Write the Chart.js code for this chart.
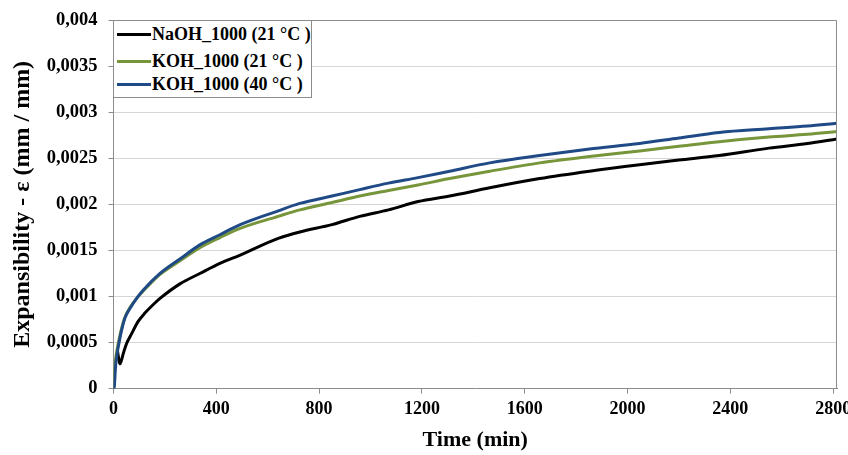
<!DOCTYPE html>
<html>
<head>
<meta charset="utf-8">
<script src="https://cdn.jsdelivr.net/npm/chart.js@4/dist/chart.umd.min.js"></script>
<style>
  html,body{margin:0;padding:0;background:#fff;}
  #wrap{position:relative;width:848px;height:455px;}
  #legend{position:absolute;left:113px;top:20px;width:197px;height:76px;background:#fff;
    border:1px solid #8c8c8c;font:bold 18px "Liberation Serif","Times New Roman",serif;color:#000;}
  .row{position:absolute;left:3px;height:22px;line-height:22px;white-space:nowrap;}
  .row i{display:inline-block;width:34px;height:3px;vertical-align:middle;margin-right:1px;position:relative;top:-1px;}
</style>
</head>
<body>
<div id="wrap">
  <canvas id="c" width="848" height="455"></canvas>
  <div id="legend"></div>
</div>
<script>
// valeurs (temps en min, déformation en mm/mm)
const naohT = [15,20,25,30,38,51,71,96,122,161,181,260,336,414,493,641,725,850,958,1070,1185,1308,1464,1658,1852,2047,2200,2357,2550,2700,2815];
const naohV = [0.00042,0.00033,0.00027,0.0003,0.00038,0.00049,0.0006,0.00073,0.00082,0.00093,0.00098,0.00114,0.00125,0.00136,0.00145,0.00163,0.0017,0.00178,0.00187,0.00194,0.00203,0.00209,0.00218,0.00228,0.00236,0.00243,0.00248,0.00253,0.00261,0.00266,0.00271];

const koh21T = [0,4,9,15,22,32,45,64,90,116,181,260,336,414,493,641,725,850,958,1070,1185,1308,1464,1658,1852,2047,2200,2357,2550,2700,2815];
const koh21V = [0,0.0002,0.00034,0.00044,0.00054,0.00066,0.00078,0.00088,0.00098,0.00106,0.00124,0.00139,0.00153,0.00164,0.00174,0.00187,0.00194,0.00202,0.00209,0.00215,0.00221,0.00228,0.00236,0.00245,0.00252,0.00258,0.00263,0.00268,0.00273,0.00276,0.00279];

const koh40T = [0,3,8,14,21,32,45,64,90,116,181,260,336,414,493,641,725,850,958,1070,1185,1308,1464,1658,1852,2047,2200,2357,2550,2700,2815];
const koh40V = [0,0.00002,0.00024,0.00038,0.00049,0.00064,0.00077,0.00087,0.00098,0.00107,0.00125,0.00141,0.00156,0.00167,0.00178,0.00193,0.00201,0.00209,0.00216,0.00223,0.00229,0.00236,0.00245,0.00253,0.0026,0.00266,0.00272,0.00278,0.00282,0.00285,0.00288];

const xTicks = [0,400,800,1200,1600,2000,2400,2800];
const xTickLabels = ["0","400","800","1200","1600","2000","2400","2800"];
const yTicks = [0,0.0005,0.001,0.0015,0.002,0.0025,0.003,0.0035,0.004];
const yTickLabels = ["0","0,0005","0,001","0,0015","0,002","0,0025","0,003","0,0035","0,004"];

const series = [
  {label:"NaOH_1000 (21 °C )", t:naohT, v:naohV, color:"#000000"},
  {label:"KOH_1000 (21 °C )",  t:koh21T, v:koh21V, color:"#77953a"},
  {label:"KOH_1000 (40 °C )",  t:koh40T, v:koh40V, color:"#1f4a86"}
];

const FONT = "'Liberation Serif','Times New Roman',serif";
const axisGray = "#8c8c8c";

// cadre gris autour de la zone de tracé
const frame = {
  id:"frame",
  afterDatasetsDraw(chart){
    const {ctx, chartArea:a} = chart;
    ctx.save();
    ctx.strokeStyle = axisGray;
    ctx.lineWidth = 1;
    ctx.beginPath();
    ctx.moveTo(a.left, a.top+0.5);
    ctx.lineTo(a.right-0.5, a.top+0.5);
    ctx.lineTo(a.right-0.5, a.bottom);
    ctx.stroke();
    ctx.restore();
  }
};

// ordre de tracé : bleu au-dessus
const datasets = series.slice().reverse().map(s=>({
  label:s.label,
  data:s.t.map((t,i)=>({x:t,y:s.v[i]})),
  borderColor:s.color,
  borderWidth:3,
  pointRadius:0,
  fill:false,
  cubicInterpolationMode:"monotone"
}));

new Chart(document.getElementById("c"),{
  type:"line",
  data:{datasets},
  plugins:[frame],
  options:{
    responsive:false,
    animation:false,
    layout:{padding:{top:20,right:11,left:0,bottom:0}},
    plugins:{legend:{display:false},tooltip:{enabled:false}},
    scales:{
      x:{
        type:"linear",min:0,max:2815,
        afterBuildTicks:ax=>{ax.ticks=xTicks.map(v=>({value:v}));},
        afterFit:ax=>{ax.height=66.3;ax.paddingLeft=0;ax.paddingRight=0;},
        ticks:{color:"#000",font:{family:FONT,size:18,weight:"bold"},padding:5,maxRotation:0,autoSkip:false,
          callback:(v,i)=>xTickLabels[i]},
        grid:{drawOnChartArea:false,drawTicks:true,tickLength:5,color:axisGray},
        border:{color:axisGray,width:1},
        title:{display:true,text:"Time (min)",color:"#000",font:{family:FONT,size:22,weight:"bold"},padding:{top:0,bottom:1}}
      },
      y:{
        min:0,max:0.004,
        afterBuildTicks:ax=>{ax.ticks=yTicks.map(v=>({value:v}));},
        afterFit:ax=>{ax.width=113.5;ax.paddingTop=0;ax.paddingBottom=0;},
        ticks:{color:"#000",font:{family:FONT,size:18.5,weight:"bold"},padding:11,
          callback:(v,i)=>yTickLabels[i]},
        grid:{color:"#d6d6d6",lineWidth:1,tickLength:5,tickColor:axisGray},
        border:{color:axisGray,width:1},
        title:{display:true,text:"Expansibility - ε (mm / mm)",color:"#000",font:{family:FONT,size:24,weight:"bold"},padding:{top:8,bottom:0}}
      }
    }
  }
});

// légende encadrée
const lg = document.getElementById("legend");
const rowTops = [2,29,52];
series.forEach((s,i)=>{
  const r = document.createElement("div");
  r.className = "row";
  r.style.top = rowTops[i]+"px";
  r.innerHTML = `<i style="background:${s.color}"></i>${s.label}`;
  lg.appendChild(r);
});
</script>
</body>
</html>
